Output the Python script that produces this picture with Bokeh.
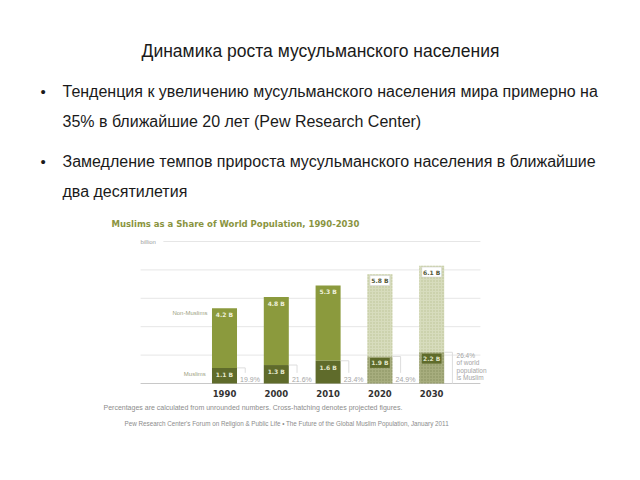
from bokeh.plotting import figure
from bokeh.models import Range1d, ColumnDataSource
from bokeh.core.properties import value
from bokeh.embed import file_html
from bokeh.resources import INLINE

# ---- data ----
years = ["1990", "2000", "2010", "2020", "2030"]
muslim = [1.1, 1.3, 1.6, 1.9, 2.2]          # billions
non_muslim = [4.2, 4.8, 5.3, 5.8, 6.1]      # billions
share = ["19.9%", "21.6%", "23.4%", "24.9%", "26.4%"]
projected = [False, False, False, True, True]
grid_ticks = [0, 2, 4, 6, 8, 10]

slide_title = "Динамика роста мусульманского населения"
bullet1 = ["Тенденция к увеличению мусульманского населения мира примерно на",
           "35% в ближайшие 20 лет (Pew Research Center)"]
bullet2 = ["Замедление темпов прироста мусульманского населения в ближайшие",
           "два десятилетия"]
chart_title = "Muslims as a Share of World Population, 1990-2030"
note_lines = ["of world", "population", "is Muslim"]
foot1 = "Percentages are calculated from unrounded numbers. Cross-hatching denotes projected figures."
foot2 = "Pew Research Center's Forum on Religion & Public Life \u2022 The Future of the Global Muslim Population, January 2011"

FONT = value("Liberation Sans")

p = figure(width=640, height=480, output_backend="svg", toolbar_location=None,
           x_range=Range1d(0, 640), y_range=Range1d(480, 0),
           x_axis_location=None, y_axis_location=None, min_border=0)
p.grid.visible = False
p.outline_line_color = None
p.background_fill_color = "white"
p.border_fill_color = "white"

# chart scales (bar index / billions)
p.extra_x_ranges = {"bx": Range1d(-4.3243, 8.0309)}
p.extra_y_ranges = {"by": Range1d(-6.831, 26.972)}
R = dict(x_range_name="bx", y_range_name="by")

# ---- slide text ----
p.text(x=[320], y=[50], text=[slide_title], text_align="center", text_baseline="middle",
       text_font=FONT, text_font_size="17.5px", text_color="#1a1a1a")
for ys, lines in (([91, 121], bullet1), ([161, 191], bullet2)):
    p.text(x=[40], y=[ys[0]], text=["\u2022"], text_baseline="middle",
           text_font=FONT, text_font_size="15px", text_color="#1a1a1a")
    p.text(x=[62] * len(lines), y=ys, text=lines, text_baseline="middle",
           text_font=FONT, text_font_size="16px", text_color="#1a1a1a")

# ---- chart ----
p.text(x=[111], y=[223], text=[chart_title], text_baseline="middle",
       text_font=value("DejaVu Sans"), text_font_style="bold", text_font_size="8.5px",
       text_color="#8a9440")

# gridlines
gx0 = [-1.18 if t == 10 else -1.62 for t in grid_ticks]
p.segment(x0=gx0, x1=[4.94] * len(grid_ticks), y0=grid_ticks, y1=grid_ticks,
          line_color=["#c8c8c8" if t == 0 else "#e6e6e6" for t in grid_ticks],
          line_width=1, **R)
p.text(x=[-1.62], y=[grid_ticks[-1]], text=["billion"], text_baseline="middle",
       text_font=FONT, text_font_size="6px", text_color="#a0a0a0", **R)

idx = list(range(len(years)))
total = [m + n for m, n in zip(muslim, non_muslim)]
hist = [i for i in idx if not projected[i]]
proj = [i for i in idx if projected[i]]

def src(ids):
    return ColumnDataSource(dict(x=ids, muslim=[muslim[i] for i in ids],
                                 total=[total[i] for i in ids]))

hs, ps = src(hist), src(proj)
W = 0.483
p.vbar(x="x", width=W, bottom="muslim", top="total", source=hs,
       fill_color="#8b9a3d", line_color=None, **R)
p.vbar(x="x", width=W, bottom=0, top="muslim", source=hs,
       fill_color="#5f6b2b", line_color=None, **R)
p.vbar(x="x", width=W, bottom="muslim", top="total", source=ps,
       fill_color="#d7dcbd", line_color=None, hatch_pattern="dot",
       hatch_color="#bcc296", hatch_scale=3, hatch_weight=1, **R)
p.vbar(x="x", width=W, bottom=0, top="muslim", source=ps,
       fill_color="#a7ad7e", line_color=None, hatch_pattern="dot",
       hatch_color="#868d5c", hatch_scale=3, hatch_weight=1, **R)

# value labels
lab_font = value("DejaVu Sans")
p.text(x=hist, y=[total[i] - 0.45 for i in hist], text=[f"{non_muslim[i]} B" for i in hist],
       text_align="center", text_baseline="middle", text_font=lab_font,
       text_font_style="bold", text_font_size="6px", text_color="#eef0dc", **R)
p.text(x=hist, y=[muslim[i] - 0.45 for i in hist], text=[f"{muslim[i]} B" for i in hist],
       text_align="center", text_baseline="middle", text_font=lab_font,
       text_font_style="bold", text_font_size="6px", text_color="#e4e8cc", **R)
p.rect(x=proj, y=[total[i] - 0.45 for i in proj], width=0.38, height=0.7,
       fill_color="white", line_color="#d0d0d0", line_width=0.5, **R)
p.text(x=proj, y=[total[i] - 0.45 for i in proj], text=[f"{non_muslim[i]} B" for i in proj],
       text_align="center", text_baseline="middle", text_font=lab_font,
       text_font_style="bold", text_font_size="6px", text_color="#555a3a", **R)
p.rect(x=proj, y=[muslim[i] - 0.45 for i in proj], width=0.38, height=0.7,
       fill_color="#5f6b2b", line_color=None, **R)
p.text(x=proj, y=[muslim[i] - 0.45 for i in proj], text=[f"{muslim[i]} B" for i in proj],
       text_align="center", text_baseline="middle", text_font=lab_font,
       text_font_style="bold", text_font_size="6px", text_color="#dfe3c6", **R)

# share brackets and labels
bx_edge = [i + W / 2 for i in idx]
bx_br = [i + 0.40 for i in idx]
p.segment(x0=bx_edge, x1=bx_br, y0=muslim, y1=muslim, line_color="#dddddd", line_width=1, **R)
p.segment(x0=bx_br[:-1], x1=bx_br[:-1], y0=muslim[:-1], y1=[0.75] * (len(idx) - 1),
          line_color="#dddddd", line_width=1, **R)
p.segment(x0=[bx_br[-1]], x1=[bx_br[-1]], y0=[muslim[-1]], y1=[0],
          line_color="#dddddd", line_width=1, **R)
p.text(x=[i + W / 2 + 0.06 for i in idx[:-1]], y=[0.3] * (len(idx) - 1), text=share[:-1],
       text_baseline="middle", text_font=FONT, text_font_size="7px", text_color="#a5a5a5", **R)
last = idx[-1]
p.text(x=[last + 0.48] * 4, y=[1.97, 1.45, 0.93, 0.42], text=[share[-1]] + note_lines,
       text_baseline="middle", text_font=FONT, text_font_size="6.5px", text_color="#a5a5a5", **R)

# category labels
p.text(x=[-0.33, -0.36], y=[4.93, 0.7], text=["Non-Muslims", "Muslims"],
       text_align="right", text_baseline="middle", text_font=FONT,
       text_font_size="6px", text_color="#9ea282", **R)

# year labels
p.text(x=idx, y=[-0.72] * len(idx), text=years, text_align="center", text_baseline="middle",
       text_font=value("DejaVu Sans"), text_font_style="bold", text_font_size="8.5px",
       text_color="#333333", **R)

# footnotes
p.text(x=[103], y=[407], text=[foot1], text_baseline="middle", text_font=FONT,
       text_font_size="7px", text_color="#8c8c8c")
p.text(x=[124], y=[423], text=[foot2], text_baseline="middle", text_font=FONT,
       text_font_size="6.3px", text_color="#8c8c8c")

open("out.html", "w").write(file_html(p, INLINE))
